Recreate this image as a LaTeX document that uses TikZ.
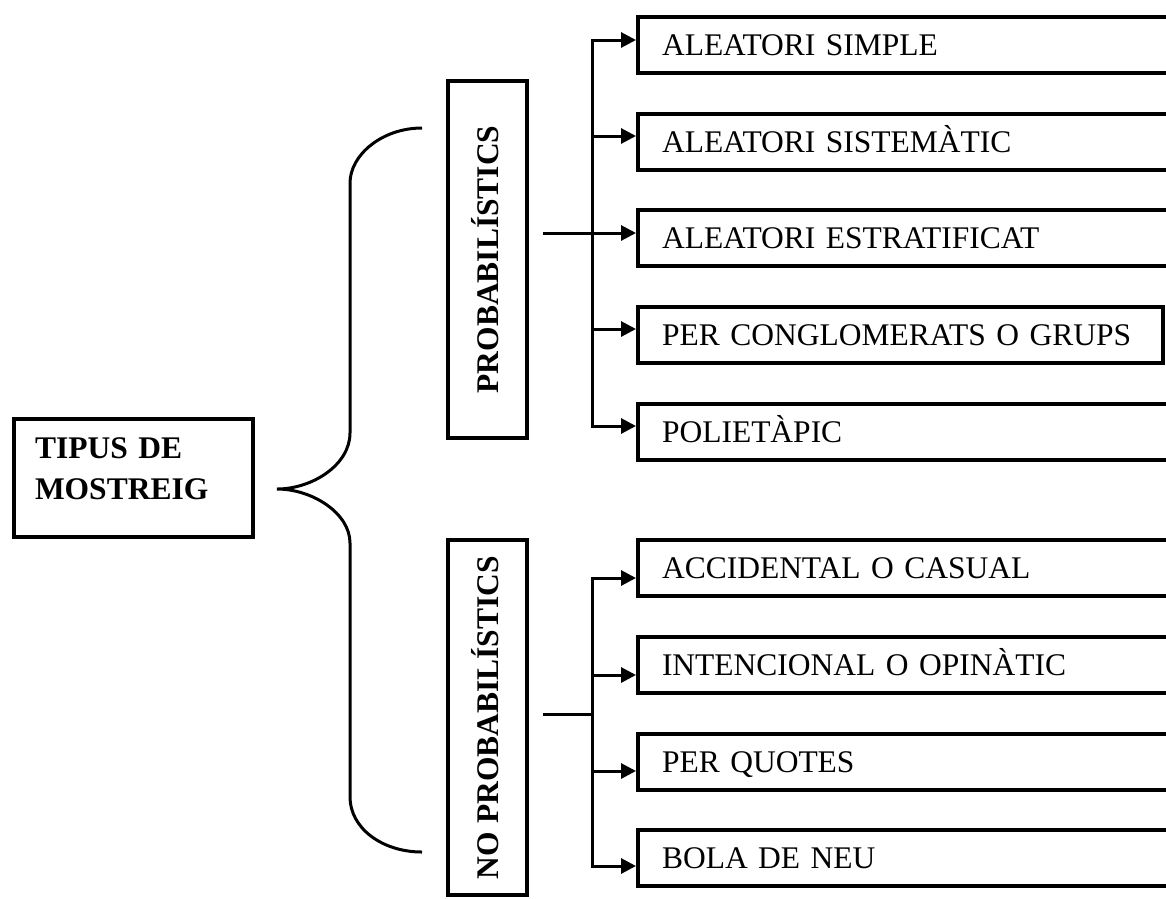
\documentclass[tikz,border=0pt]{standalone}
\usepackage{fontspec}
\setmainfont{Liberation Serif}
\usetikzlibrary{arrows.meta}
\begin{document}
\begin{tikzpicture}[x=1pt,y=-1pt,
  box/.style={draw, line width=4pt, rectangle, inner sep=0pt,
    font=\fontsize{31.5}{41}\selectfont},
  leaf/.style={box, anchor=north west, minimum height=56pt,
    text height=21pt, text depth=0pt, inner xsep=24pt, align=left},
  group/.style={box, rotate=90, minimum height=79pt,
    text height=21pt, text depth=0pt,
    font=\fontsize{31.5}{41}\selectfont\bfseries},
  rootbox/.style={box, anchor=north west, inner xsep=21pt,
    minimum height=118pt, text width=197pt, align=left,
    text height=21pt, text depth=61pt,
    font=\fontsize{31.5}{41}\selectfont\bfseries},
  link/.style={line width=3pt, line join=miter},
  tip/.style={-{Triangle[length=15pt,width=15pt]}},
  tips/.style={{Triangle[length=15pt,width=15pt]}-{Triangle[length=15pt,width=15pt]}},
  bracket/.style={line width=3pt}
]
\useasboundingbox (0,0) rectangle (1166,898);
\clip (0,0) rectangle (1166,898);

% root
\node[rootbox] (mostreig) at (12,417) {TIPUS DE\\MOSTREIG};

% the two families of sampling
\node[group, minimum width=357pt] (prob) at (487.5,259.5) {PROBABILÍSTICS};
\node[group, minimum width=355pt] (noprob) at (487.5,717.5) {NO PROBABILÍSTICS};

% curly brace joining the root to both families
\draw[bracket] (422,128) .. controls (382,128) and (350,155) .. (350,183)
  -- (350,433) .. controls (350,465) and (312,489) .. (277,489)
  .. controls (312,489) and (350,513) .. (350,543)
  -- (350,797) .. controls (350,828) and (382,852) .. (422,852);

% probabilistic methods
\node[leaf, text width=494pt] (p1) at (636,15)  {ALEATORI SIMPLE};
\node[leaf, text width=494pt] (p2) at (636,112) {ALEATORI SISTEMÀTIC};
\node[leaf, text width=494pt] (p3) at (636,208) {ALEATORI ESTRATIFICAT};
\node[leaf, text width=477pt] (p4) at (636,305) {PER CONGLOMERATS O GRUPS};
\node[leaf, text width=494pt] (p5) at (636,402) {POLIETÀPIC};

% non-probabilistic methods
\node[leaf, text width=494pt] (n1) at (636,538) {ACCIDENTAL O CASUAL};
\node[leaf, text width=494pt] (n2) at (636,635) {INTENCIONAL O OPINÀTIC};
\node[leaf, text width=494pt] (n3) at (636,732) {PER QUOTES};
\node[leaf, text width=494pt] (n4) at (636,828) {BOLA DE NEU};

% branch points on the two trunks
\coordinate (pj) at (543,233);
\coordinate (pt1) at (592,40);
\coordinate (pt2) at (592,136);
\coordinate (pt4) at (592,329);
\coordinate (pt5) at (592,426);
\coordinate (nj) at (543,714);
\coordinate (nt1) at (592,578);
\coordinate (nt2) at (592,675);
\coordinate (nt3) at (592,771);
\coordinate (nt4) at (592,866);

% probabilistic trunk
\draw[link, tips] (p1.west |- pt1) -- (pt1) -- (pt5) -- (p5.west |- pt5);
\draw[link, tip] (pt2) -- (p2.west |- pt2);
\draw[link, tip] (pj) -- (p3.west |- pj);
\draw[link, tip] (pt4) -- (p4.west |- pt4);

% non-probabilistic trunk
\draw[link, tips] (n1.west |- nt1) -- (nt1) -- (nt4) -- (n4.west |- nt4);
\draw[link] (nj) -- (nt1 |- nj);
\draw[link, tip] (nt2) -- (n2.west |- nt2);
\draw[link, tip] (nt3) -- (n3.west |- nt3);
\end{tikzpicture}
\end{document}
